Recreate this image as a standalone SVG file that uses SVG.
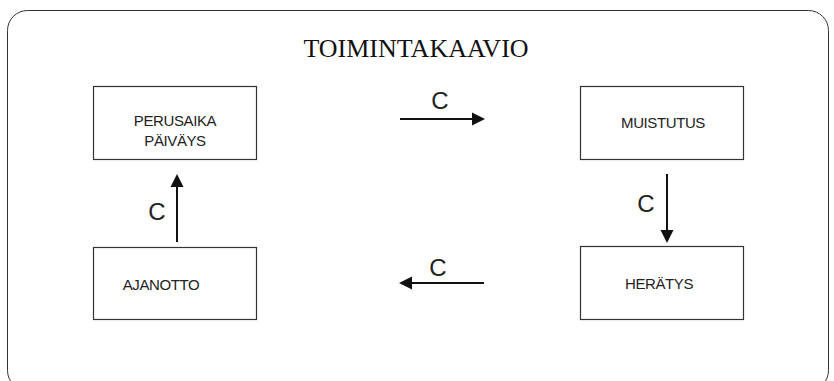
<svg xmlns="http://www.w3.org/2000/svg" width="834" height="381" viewBox="0 0 834 381">
<style>
.frame{fill:#fff;stroke:#333;stroke-width:1}
.box{fill:#fff;stroke:#333;stroke-width:1.2}
.lbl{font-family:"Liberation Sans",Arial,sans-serif;font-size:15px;fill:#222;letter-spacing:-0.4px}
.c{font-family:"Liberation Sans",Arial,sans-serif;font-size:24px;fill:#222}
.title{font-family:"Liberation Serif","Times New Roman",serif;font-size:26px;fill:#111}
.edge{stroke:#111;stroke-width:2;fill:none}
.head{fill:#111}
</style>
<rect class="frame" x="7.5" y="10.5" width="821" height="380" rx="20" ry="20"/>
<text class="title" x="416" y="57" text-anchor="middle">TOIMINTAKAAVIO</text>
<g id="perusaika">
<rect class="box" x="93.5" y="86.5" width="163" height="73"/>
<text class="lbl" x="175" y="126" text-anchor="middle">PERUSAIKA</text>
<text class="lbl" x="175" y="146" text-anchor="middle">PÄIVÄYS</text>
</g>
<g id="muistutus">
<rect class="box" x="580.5" y="86.5" width="163" height="73"/>
<text class="lbl" x="663" y="128" text-anchor="middle">MUISTUTUS</text>
</g>
<g id="heratys">
<rect class="box" x="580.5" y="246.5" width="163" height="73"/>
<text class="lbl" x="659" y="289" text-anchor="middle">HERÄTYS</text>
</g>
<g id="ajanotto">
<rect class="box" x="93.5" y="247.5" width="163" height="72"/>
<text class="lbl" x="161" y="290" text-anchor="middle">AJANOTTO</text>
</g>
<g id="connectors">
<line class="edge" x1="400" y1="119" x2="473" y2="119"/>
<polygon class="head" points="485,119 472,112.5 472,125.5"/>
<text class="c" x="440" y="109" text-anchor="middle">C</text>
<line class="edge" x1="667" y1="174" x2="667" y2="231"/>
<polygon class="head" points="667,243 660.5,230 673.5,230"/>
<text class="c" x="646" y="212" text-anchor="middle">C</text>
<line class="edge" x1="484" y1="283" x2="411" y2="283"/>
<polygon class="head" points="399,283 412,276.5 412,289.5"/>
<text class="c" x="438" y="276" text-anchor="middle">C</text>
<line class="edge" x1="177" y1="242" x2="177" y2="186"/>
<polygon class="head" points="177,174 170.5,187 183.5,187"/>
<text class="c" x="157" y="220" text-anchor="middle">C</text>
</g>
</svg>
